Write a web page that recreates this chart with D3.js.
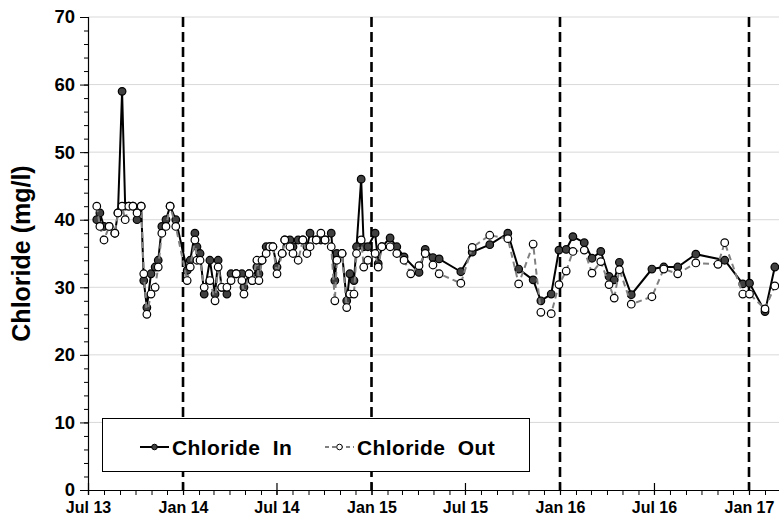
<!DOCTYPE html>
<html><head><meta charset="utf-8">
<script src="https://cdn.jsdelivr.net/npm/d3@7"></script>
<style>
html,body{margin:0;padding:0;background:#fff;}
svg{display:block;font-family:"Liberation Sans",Arial,sans-serif;font-weight:bold;}
</style></head>
<body><svg id="chart" width="779" height="524"></svg>
<script>
const dates = ["2013-07-18","2013-07-24","2013-08-01","2013-08-11","2013-08-22","2013-08-28","2013-09-05","2013-09-11","2013-09-18","2013-09-26",
"2013-10-04","2013-10-12","2013-10-17","2013-10-23","2013-10-31","2013-11-08","2013-11-14","2013-11-21","2013-11-29","2013-12-07",
"2013-12-18","2014-01-09","2014-01-15","2014-01-24","2014-01-28","2014-02-03","2014-02-11","2014-02-22","2014-03-04","2014-03-10",
"2014-03-17","2014-03-27","2014-04-04","2014-04-14","2014-04-25","2014-04-29","2014-05-09","2014-05-15","2014-05-24","2014-05-28",
"2014-06-03","2014-06-11","2014-06-18","2014-06-24","2014-07-02","2014-07-12","2014-07-17","2014-07-27","2014-08-02","2014-08-12",
"2014-08-21","2014-08-29","2014-09-04","2014-09-16","2014-09-25","2014-10-03","2014-10-15","2014-10-22","2014-10-26","2014-11-05",
"2014-11-14","2014-11-20","2014-11-28","2014-12-03","2014-12-12","2014-12-17","2014-12-25","2015-01-08","2015-01-14","2015-01-21",
"2015-02-06","2015-02-19","2015-03-05","2015-03-18","2015-04-03","2015-04-15","2015-04-30","2015-05-12","2015-06-23","2015-07-15",
"2015-08-18","2015-09-22","2015-10-13","2015-11-10","2015-11-25","2015-12-15","2015-12-30","2016-01-13","2016-01-26","2016-02-17",
"2016-03-03","2016-03-20","2016-04-05","2016-04-15","2016-04-25","2016-05-18","2016-06-27","2016-07-20","2016-08-16","2016-09-20",
"2016-11-02","2016-11-15","2016-12-20","2017-01-02","2017-02-01","2017-02-20"];

const chlorideIn = [40,41,39,39,38,41,59,42,42,42,
40,42,31,27,32,33,34,39,40,42,
40,32.5,34,38,36,35,29,34,29,34,
30,29,32,32,32,30,32,31,33,32,
34,36,36,36,33,35,37,37,36,37,
37,36,38,37,37,37,38,31,35,35,
28,32,31,36,46,36,36,38,33.5,36,
37.3,36,34.5,null,32.2,35.6,34.4,34.2,32.3,35.2,
36.3,38,32.7,31.1,28,29,35.5,35.6,37.5,36.6,
34.3,35.3,31.6,31.1,33.7,28.9,32.7,33,33,34.9,
null,34,30.5,30.6,26.4,33];

const chlorideOut = [42,39,37,39,38,41,42,40,42,42,
41,42,32,26,29,30,33,38,39,42,
39,31,33,37,34,34,30,31,28,33,
30,30,31,32,31,29,32,31,34,31,
34,35,36,36,32,35,37,36,35,34,
37,35,36,37,38,37,36,28,34,35,
27,29,29,35,37,33,34,35,33,36,
36,35,34,32,33.2,35,33.3,32,30.6,35.9,
37.7,37.2,30.5,36.4,26.3,26.1,30.4,32.4,35.3,35.5,
32.1,33.8,30.4,28.4,32.6,27.5,28.6,32.7,32,33.6,
33.4,36.6,29,29,26.8,30.2];

const yTicks = [0,10,20,30,40,50,60,70];
const xTickDates = ["2013-07-01","2014-01-01","2014-07-01","2015-01-01","2015-07-01","2016-01-01","2016-07-01","2017-01-01"];
const xTickLabels = ["Jul 13","Jan 14","Jul 14","Jan 15","Jul 15","Jan 16","Jul 16","Jan 17"];
const dividerDates = ["2014-01-01","2015-01-01","2016-01-01","2017-01-01"];
const seriesNames = ["Chloride  In","Chloride  Out"];

const parse = d3.utcParse("%Y-%m-%d");
const svg = d3.select("#chart");
const plotLeft = 88, plotBottom = 490, plotTop = 17;
const x = d3.scaleUtc().domain([parse("2013-07-01"), parse("2017-03-01")]).range([plotLeft, plotLeft + 1339*0.5164]);
const y = d3.scaleLinear().domain([0,70]).range([plotBottom, plotTop]);

// gridlines
svg.append("g").selectAll("line").data(yTicks.filter(d=>d>0)).join("line")
  .attr("x1", plotLeft).attr("x2", 779).attr("y1", d=>y(d)).attr("y2", d=>y(d))
  .attr("stroke", "#d9d9d9").attr("stroke-width", 1);

// divider dashed lines
svg.append("g").selectAll("line").data(dividerDates).join("line")
  .attr("x1", d=>x(parse(d))).attr("x2", d=>x(parse(d)))
  .attr("y1", y(70)).attr("y2", plotBottom)
  .attr("stroke", "#000").attr("stroke-width", 2.6).attr("stroke-dasharray", "10,5");

// y axis minor
const yMinor = svg.append("g").attr("transform", `translate(${plotLeft},0)`)
  .call(d3.axisLeft(y).tickValues(d3.range(0,71,2)).tickSize(4).tickFormat(""));
yMinor.select(".domain").remove();
yMinor.selectAll("line").attr("stroke","#000");
// y axis major
const yAxis = svg.append("g").attr("transform", `translate(${plotLeft},0)`)
  .call(d3.axisLeft(y).tickValues(yTicks).tickSize(8).tickPadding(5).tickFormat(d3.format("d")));
yAxis.select(".domain").attr("stroke","#000").attr("stroke-width",1.2);
yAxis.selectAll("line").attr("stroke","#000");
yAxis.selectAll("text").attr("font-size","18.5px").attr("font-weight","bold").attr("font-family","Liberation Sans, Arial, sans-serif").attr("fill","#000");

// x axis minor (monthly)
const monthTicks = d3.utcMonth.range(parse("2013-07-01"), parse("2017-03-02"));
const xMinor = svg.append("g").attr("transform", `translate(0,${plotBottom})`)
  .call(d3.axisBottom(x).tickValues(monthTicks).tickSize(5).tickFormat(""));
xMinor.select(".domain").attr("stroke","#000").attr("stroke-width",1.2);
xMinor.selectAll("line").attr("stroke","#000");
// x axis major (crossing)
const xAxis = svg.append("g").attr("transform", `translate(0,${plotBottom})`)
  .call(d3.axisBottom(x).tickValues(xTickDates.map(parse)).tickSize(5).tickPadding(7)
    .tickFormat((d,i)=>xTickLabels[i]));
xAxis.select(".domain").remove();
xAxis.selectAll("line").attr("stroke","#000").attr("y1",-7).attr("stroke-width",1.2);
xAxis.selectAll("text").attr("font-size","16px").attr("font-weight","bold").attr("font-family","Liberation Sans, Arial, sans-serif").attr("fill","#000");

// y title
svg.append("text").attr("transform", `translate(30,${y(35)}) rotate(-90)`)
  .attr("text-anchor","middle").attr("font-size","25px").attr("font-weight","bold")
  .text("Chloride (mg/l)");

// series
const rowsIn = dates.map((d,i)=>({date:parse(d), v:chlorideIn[i]})).filter(d=>d.v!=null);
const rowsOut = dates.map((d,i)=>({date:parse(d), v:chlorideOut[i]})).filter(d=>d.v!=null);
const line = d3.line().x(d=>x(d.date)).y(d=>y(d.v));

svg.append("path").datum(rowsIn).attr("d", line).attr("fill","none")
  .attr("stroke","#000").attr("stroke-width",2);
svg.append("g").selectAll("circle").data(rowsIn).join("circle")
  .attr("cx", d=>x(d.date)).attr("cy", d=>y(d.v)).attr("r",3.8)
  .attr("fill","#404040").attr("stroke","#000").attr("stroke-width",1.2);

svg.append("path").datum(rowsOut).attr("d", line).attr("fill","none")
  .attr("stroke","#808080").attr("stroke-width",2).attr("stroke-dasharray","6,4");
svg.append("g").selectAll("circle").data(rowsOut).join("circle")
  .attr("cx", d=>x(d.date)).attr("cy", d=>y(d.v)).attr("r",3.8)
  .attr("fill","#fff").attr("stroke","#000").attr("stroke-width",1.2);

// legend
const lg = svg.append("g");
lg.append("rect").attr("x",102.5).attr("y",418.5).attr("width",427).attr("height",53)
  .attr("fill","#fff").attr("stroke","#000").attr("stroke-width",1);
const legendItems = [
  {name: seriesNames[0], x0:140, stroke:"#000", dash:null, fill:"#404040"},
  {name: seriesNames[1], x0:325, stroke:"#808080", dash:"4,3", fill:"#fff"}
];
legendItems.forEach(it=>{
  lg.append("line").attr("x1",it.x0).attr("x2",it.x0+29).attr("y1",447).attr("y2",447)
    .attr("stroke",it.stroke).attr("stroke-width",2).attr("stroke-dasharray",it.dash);
  lg.append("circle").attr("cx",it.x0+14.5).attr("cy",447).attr("r",2.8)
    .attr("fill",it.fill).attr("stroke","#000").attr("stroke-width",1);
  lg.append("text").attr("x",it.x0+32).attr("y",455).attr("font-size","21px")
    .attr("letter-spacing","0.4px")
    .attr("font-weight","bold").attr("xml:space","preserve").style("white-space","pre").text(it.name);
});
</script>
</body></html>
